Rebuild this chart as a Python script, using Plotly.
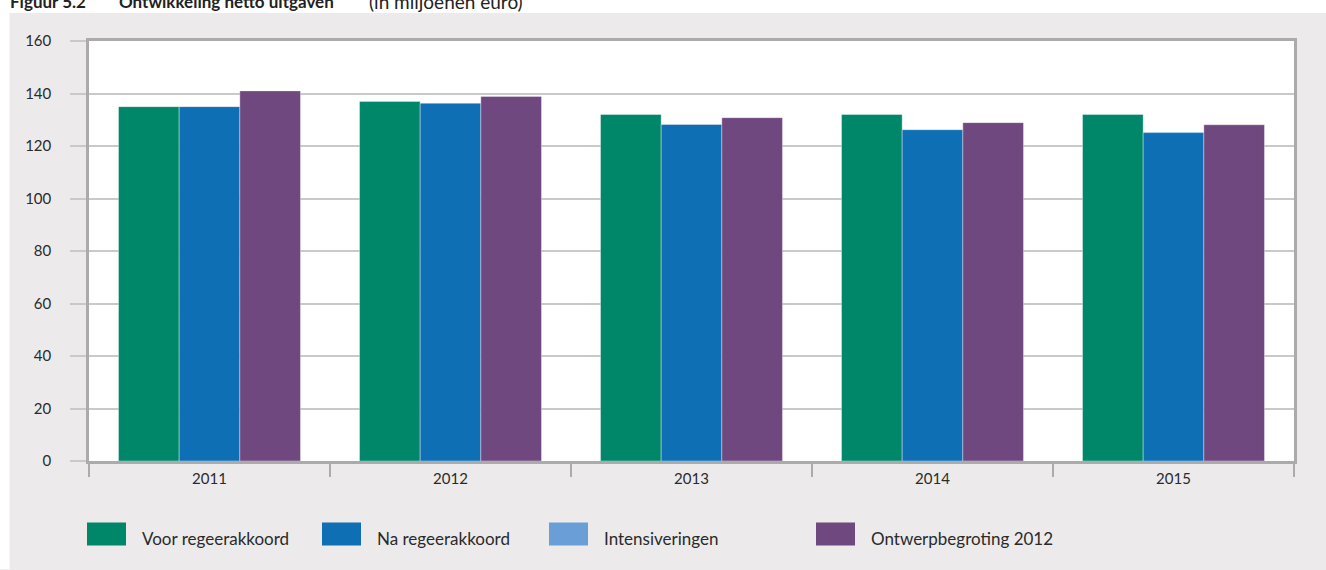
import plotly.graph_objects as go

# ---- data ----
years = ["2011", "2012", "2013", "2014", "2015"]
voor_regeerakkoord = [135, 137, 132, 132, 132]
na_regeerakkoord = [135, 136.3, 128.2, 126.2, 125.1]
intensiveringen = [0, 0, 0, 0, 0]
ontwerpbegroting_2012 = [141, 138.9, 130.8, 128.9, 128.1]

series_names = ["Voor regeerakkoord", "Na regeerakkoord", "Intensiveringen", "Ontwerpbegroting 2012"]
series_colors = ["#00876A", "#0F6FB4", "#6A9ED6", "#704880"]

# ---- layout geometry (pixels) ----
W, H = 1326, 570
L, R, T, B = 89, 32, 41, 108.5
PW = W - L - R
PH = H - T - B
BG = "#ECEAEB"
AXIS = "#ABABAB"
GRID = "#C9C9C9"
FONT = "Lato"
TXT = "#2a2a2a"


def px_x(p):
    return (p - L) / PW


def px_y(p):
    return (H - B - p) / PH


fig = go.Figure()

edge = dict(width=0.8, color="rgba(255,255,255,0.45)")
fig.add_trace(go.Bar(x=years, y=voor_regeerakkoord, name=series_names[0], offsetgroup="a",
                     marker=dict(color=series_colors[0], line=edge)))
fig.add_trace(go.Bar(x=years, y=na_regeerakkoord, name=series_names[1], offsetgroup="b",
                     marker=dict(color=series_colors[1], line=edge)))
fig.add_trace(go.Bar(x=years, y=intensiveringen, name=series_names[2], offsetgroup="b",
                     base=na_regeerakkoord,
                     marker=dict(color=series_colors[2], line=dict(width=0))))
fig.add_trace(go.Bar(x=years, y=ontwerpbegroting_2012, name=series_names[3], offsetgroup="c",
                     marker=dict(color=series_colors[3], line=edge)))

shapes = []
annotations = []

# white strip at the top (above the grey panel) and at the left edge
shapes.append(dict(type="rect", xref="paper", yref="paper", x0=px_x(0), x1=px_x(W),
                   y0=px_y(13), y1=px_y(0), fillcolor="white", line=dict(width=0), layer="above"))
shapes.append(dict(type="rect", xref="paper", yref="paper", x0=px_x(0), x1=px_x(9.5),
                   y0=px_y(H), y1=px_y(0), fillcolor="white", line=dict(width=0), layer="above"))

# title (cut off at the top edge, as in the reference)
annotations.append(dict(xref="paper", yref="paper", x=px_x(88), y=px_y(1), xanchor="right", yanchor="middle",
                        showarrow=False, text="<b>Figuur 5.2</b>",
                        font=dict(family=FONT, size=17, color="#222222")))
annotations.append(dict(xref="paper", yref="paper", x=px_x(117), y=px_y(1), xanchor="left", yanchor="middle",
                        showarrow=False, text="<b>Ontwikkeling netto uitgaven</b>",
                        font=dict(family=FONT, size=17, color="#222222")))
annotations.append(dict(xref="paper", yref="paper", x=px_x(367), y=px_y(1), xanchor="left", yanchor="middle",
                        showarrow=False, text="(in miljoenen euro)",
                        font=dict(family=FONT, size=19, color="#222222")))

# legend with large swatches
sw_x = [87, 322, 549, 816]
for name, color, sx in zip(series_names, series_colors, sw_x):
    shapes.append(dict(type="rect", xref="paper", yref="paper",
                       x0=px_x(sx), x1=px_x(sx + 39), y0=px_y(546), y1=px_y(523),
                       fillcolor=color, line=dict(width=0), layer="above"))
    annotations.append(dict(xref="paper", yref="paper", x=px_x(sx + 53), y=px_y(539.5),
                            xanchor="left", yanchor="middle", showarrow=False, text=name,
                            font=dict(family=FONT, size=17, color=TXT)))

fig.update_layout(
    width=W, height=H,
    margin=dict(l=L, r=R, t=T, b=B, pad=0),
    paper_bgcolor=BG,
    plot_bgcolor="white",
    barmode="group",
    bargap=0.245,
    bargroupgap=0,
    showlegend=False,
    shapes=shapes,
    annotations=annotations,
    font=dict(family=FONT, color=TXT),
)

fig.update_xaxes(
    type="category",
    showline=True, linecolor=AXIS, linewidth=2.5, mirror=True,
    ticks="outside", tickson="boundaries", ticklen=13, tickwidth=2, tickcolor=AXIS,
    showgrid=False,
    tickfont=dict(family=FONT, size=15, color=TXT),
    ticklabelstandoff=2,
)
fig.update_yaxes(
    range=[0, 160], dtick=20, tick0=0,
    showline=True, linecolor=AXIS, linewidth=2.5, mirror=True,
    ticks="outside", ticklen=16, tickwidth=2, tickcolor=GRID,
    showgrid=True, gridcolor=GRID, gridwidth=2,
    zeroline=False,
    tickfont=dict(family=FONT, size=15, color=TXT),
    ticklabelstandoff=16,
)

fig.write_html("out.html", config={"displayModeBar": False},
               post_script="document.body.style.margin='0';")
